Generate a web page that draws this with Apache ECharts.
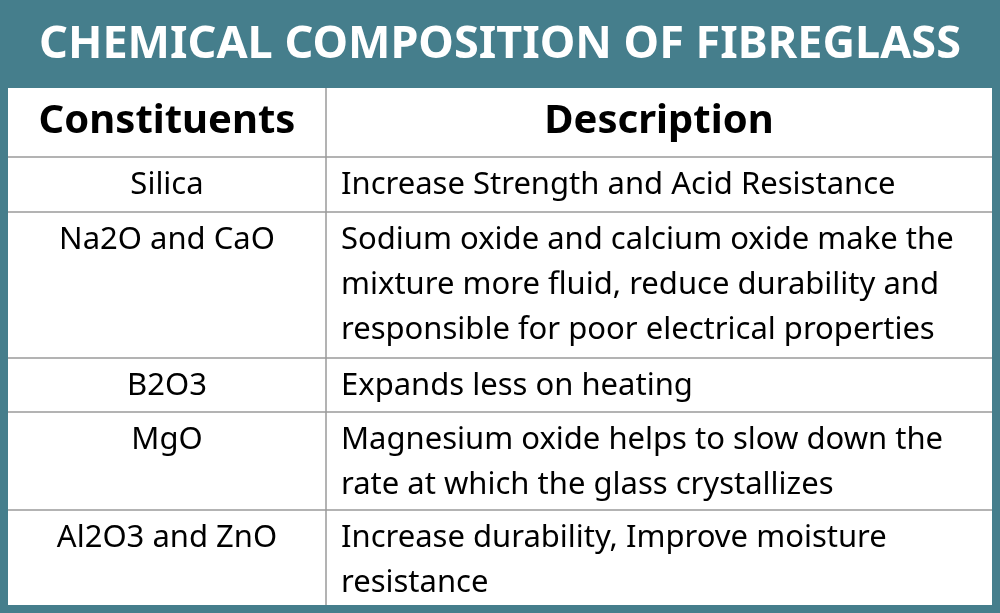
<!DOCTYPE html><html><head><meta charset="utf-8">
<script src="https://cdn.jsdelivr.net/npm/echarts@6/dist/echarts.min.js"></script>
<style>html,body{margin:0;padding:0;background:#fff}#c{width:1000px;height:613px}</style></head><body><div id="c"></div>
<script>
var title = "CHEMICAL COMPOSITION OF FIBREGLASS";
var headers = ["Constituents", "Description"];
var constituents = ["Silica", "Na2O and CaO", "B2O3", "MgO", "Al2O3 and ZnO"];
var descriptions = [
  "Increase Strength and Acid Resistance",
  "Sodium oxide and calcium oxide make the\nmixture more fluid, reduce durability and\nresponsible for poor electrical properties",
  "Expands less on heating",
  "Magnesium oxide helps to slow down the\nrate at which the glass crystallizes",
  "Increase durability, Improve moisture\nresistance"
];
var rowTops = [157, 212, 358, 412, 510, 605];
var teal = "#457e8c", font = "Noto Sans", line = "#9a9a9a";
var L = 8, R = 992, M = 326, T = 88;
var g = [];
g.push({type:'rect', shape:{x:0,y:0,width:1000,height:613}, style:{fill:teal}});
g.push({type:'rect', shape:{x:L,y:T,width:R-L,height:605-T}, style:{fill:'#fff'}});
g.push({type:'text', x:500, y:45, style:{text:title, fill:'#fff', font:'bold 45px "'+font+'"', align:'center', verticalAlign:'middle'}});
g.push({type:'text', x:(L+M)/2, y:122, style:{text:headers[0], fill:'#000', font:'bold 40px "'+font+'"', align:'center', verticalAlign:'middle'}});
g.push({type:'text', x:(M+R)/2, y:122, style:{text:headers[1], fill:'#000', font:'bold 40px "'+font+'"', align:'center', verticalAlign:'middle'}});
rowTops.slice(0,5).forEach(function(y){ g.push({type:'line', shape:{x1:L,y1:y,x2:R,y2:y}, style:{stroke:line,lineWidth:1.5}}); });
g.push({type:'line', shape:{x1:M,y1:T,x2:M,y2:605}, style:{stroke:line,lineWidth:1.5}});
constituents.forEach(function(c,i){
  var top = rowTops[i];
  g.push({type:'text', x:(L+M)/2, y:top+6, style:{text:c, fill:'#000', font:'31px "'+font+'"', align:'center', verticalAlign:'top', lineHeight:45}});
  g.push({type:'text', x:341, y:top+6, style:{text:descriptions[i], fill:'#000', font:'31px "'+font+'"', align:'left', verticalAlign:'top', lineHeight:45}});
});
var ch = echarts.init(document.getElementById('c'));
ch.setOption({animation:false, graphic:{elements:g}});
</script></body></html>
